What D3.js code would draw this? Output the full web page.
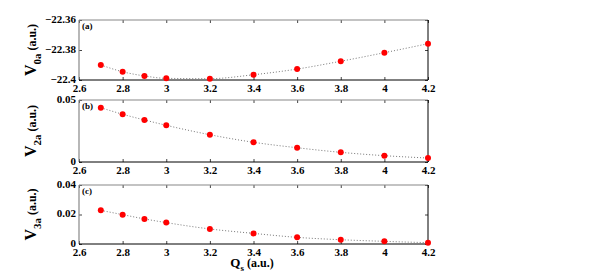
<!DOCTYPE html>
<html>
<head>
<meta charset="utf-8">
<script src="https://cdn.jsdelivr.net/npm/d3@7"></script>
<style>
body{margin:0;background:#fff;}
text{font-family:"Liberation Serif","Times New Roman",serif;font-weight:bold;}
</style>
</head>
<body>
<div id="chart"></div>
<script>
// data
var qs=[2.7,2.8,2.9,3.0,3.2,3.4,3.6,3.8,4.0,4.2];
var v0a=[-22.3900,-22.3945,-22.3973,-22.3989,-22.3991,-22.3965,-22.3927,-22.3875,-22.3818,-22.3758];
var v2a=[0.0438,0.0385,0.0339,0.0296,0.0220,0.0159,0.0115,0.0078,0.0051,0.0032];
var v3a=[0.0228,0.0199,0.0170,0.0145,0.0102,0.0072,0.0045,0.0029,0.0018,0.0009];
var xTicks=[2.6,2.8,3,3.2,3.4,3.6,3.8,4,4.2];

var panels=[
	{label:"(a)",sub:"0a",values:v0a,domain:[-22.4,-22.36],ticks:[-22.4,-22.38,-22.36],top:20,bottom:80},
	{label:"(b)",sub:"2a",values:v2a,domain:[0,0.05],ticks:[0,0.05],top:100,bottom:162},
	{label:"(c)",sub:"3a",values:v3a,domain:[0,0.04],ticks:[0,0.02,0.04],top:185,bottom:244}
];

var width=599, height=275;
var left=79, right=428;

var svg=d3.select("#chart").append("svg")
	.attr("width",width)
	.attr("height",height);

var x=d3.scaleLinear().domain([2.6,4.2]).range([left,right]);

function fmt(d){
	var s=d3.format("")(+d.toFixed(4));
	return s.replace("-","\u2212");
}

panels.forEach(function(p){
	var y=d3.scaleLinear().domain(p.domain).range([p.bottom,p.top]);
	var g=svg.append("g");

	// ticks (inside, all four sides)
	g.append("g")
		.attr("transform","translate(0,"+p.bottom+")")
		.call(d3.axisBottom(x).tickValues(xTicks).tickSize(-3).tickFormat(fmt))
		.call(function(a){
			a.select(".domain").remove();
			a.selectAll("line").attr("stroke","#444");
			a.selectAll("text").attr("dy","0.85em").attr("y",3).style("font-size","11px").attr("fill","#000");
		});
	g.append("g")
		.attr("transform","translate(0,"+p.top+")")
		.call(d3.axisTop(x).tickValues(xTicks).tickSize(-3).tickFormat(""))
		.call(function(a){ a.select(".domain").remove(); a.selectAll("line").attr("stroke","#444"); });
	g.append("g")
		.attr("transform","translate("+left+",0)")
		.call(d3.axisLeft(y).tickValues(p.ticks).tickSize(-3).tickFormat(fmt))
		.call(function(a){
			a.select(".domain").remove();
			a.selectAll("line").attr("stroke","#444");
			a.selectAll("text").attr("x",-3).attr("dy","0.2em").style("font-size","11px").attr("fill","#000");
		});
	g.append("g")
		.attr("transform","translate("+right+",0)")
		.call(d3.axisRight(y).tickValues(p.ticks).tickSize(-3).tickFormat(""))
		.call(function(a){ a.select(".domain").remove(); a.selectAll("line").attr("stroke","#444"); });

	// box: left/top grey, right/bottom black
	g.append("line").attr("x1",left).attr("x2",left).attr("y1",p.top).attr("y2",p.bottom).attr("stroke","#888").attr("stroke-width",1.2);
	g.append("line").attr("x1",left).attr("x2",right).attr("y1",p.top).attr("y2",p.top).attr("stroke","#888").attr("stroke-width",1.2);
	g.append("line").attr("x1",right).attr("x2",right).attr("y1",p.top).attr("y2",p.bottom).attr("stroke","#000").attr("stroke-width",1);
	g.append("line").attr("x1",left).attr("x2",right).attr("y1",p.bottom).attr("y2",p.bottom).attr("stroke","#000").attr("stroke-width",1);

	var pts=qs.map(function(q,i){ return [q,p.values[i]]; });
	var line=d3.line()
		.x(function(d){ return x(d[0]); })
		.y(function(d){ return y(d[1]); })
		.curve(d3.curveMonotoneX);
	g.append("path")
		.attr("d",line(pts))
		.attr("fill","none")
		.attr("stroke","#777")
		.attr("stroke-width",1)
		.attr("stroke-dasharray","1,2");

	g.selectAll("circle").data(pts).enter().append("circle")
		.attr("cx",function(d){ return x(d[0]); })
		.attr("cy",function(d){ return y(d[1]); })
		.attr("r",3)
		.attr("fill","#f00");

	g.append("text")
		.attr("x",left+3)
		.attr("y",p.top+9)
		.style("font-size","9px")
		.text(p.label);

	// y label
	var cy=(p.top+p.bottom)/2;
	var t=g.append("text")
		.attr("transform","translate(36,"+cy+") rotate(-90)")
		.attr("text-anchor","middle");
	t.append("tspan").style("font-size","16px").text("V");
	t.append("tspan").style("font-size","11px").attr("dy",5).text(p.sub);
	t.append("tspan").style("font-size","12px").attr("dy",-5).text("\u00a0(a.u.)");
});

// x label
var xl=svg.append("text")
	.attr("x",252)
	.attr("y",267)
	.attr("text-anchor","middle");
xl.append("tspan").style("font-size","13px").text("Q");
xl.append("tspan").style("font-size","9px").attr("dy",4).text("s");
xl.append("tspan").style("font-size","12px").attr("dy",-4).text("\u00a0(a.u.)");
</script>
</body>
</html>
